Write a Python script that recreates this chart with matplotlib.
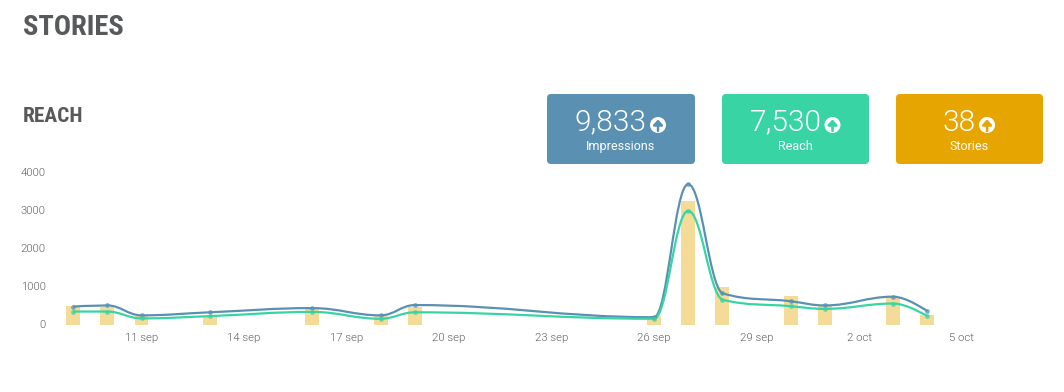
"""Stories / reach panel: story bars with impressions and reach splines."""

import matplotlib

matplotlib.use("Agg")
import matplotlib.dates as mdates
import matplotlib.pyplot as plt
import numpy as np
from matplotlib.patches import Circle, FancyBboxPatch, PathPatch
from matplotlib.path import Path

dates = ["2021-09-09", "2021-09-10", "2021-09-11", "2021-09-13", "2021-09-16",
         "2021-09-18", "2021-09-19", "2021-09-26", "2021-09-27", "2021-09-28",
         "2021-09-30", "2021-10-01", "2021-10-03", "2021-10-04"]
stories = [480, 470, 220, 215, 460, 220, 470, 215, 3240, 990, 740, 480, 730, 240]
impressions = [470, 500, 240, 320, 430, 240, 510, 190, 3680, 820, 610, 500, 730, 350]
reach = [340, 340, 160, 220, 330, 150, 320, 150, 2980, 650, 480, 410, 550, 220]

tick_dates = ["2021-09-11", "2021-09-14", "2021-09-17", "2021-09-20", "2021-09-23",
              "2021-09-26", "2021-09-29", "2021-10-02", "2021-10-05"]
tick_labels = ["11 sep", "14 sep", "17 sep", "20 sep", "23 sep",
               "26 sep", "29 sep", "2 oct", "5 oct"]
y_ticks = [0, 1000, 2000, 3000, 4000]

cards = [("9,833", "Impressions", 547, 148, "#5A91B2"),
         ("7,530", "Reach", 722, 147, "#38D4A4"),
         ("38", "Stories", 896, 147, "#E6A500")]

BLUE = "#5A91B2"
GREEN = "#38D4A4"
BAR = "#F5DB98"
GREY = "#5F5F5F"
TITLE = "#58595B"

W, H = 1064, 392


def spline_path(x, y, smoothing=1.5):
    # bezier segments through every point, flattened at local extremes
    n = len(x)
    verts = [(x[0], y[0])]
    codes = [Path.MOVETO]
    left = [(x[0], y[0])] * n
    right = [(x[0], y[0])] * n
    for i in range(1, n - 1):
        lx = (smoothing * x[i] + x[i - 1]) / (smoothing + 1)
        ly = (smoothing * y[i] + y[i - 1]) / (smoothing + 1)
        rx = (smoothing * x[i] + x[i + 1]) / (smoothing + 1)
        ry = (smoothing * y[i] + y[i + 1]) / (smoothing + 1)
        corr = (ry - ly) * (rx - x[i]) / (rx - lx) + y[i] - ry
        ly += corr
        ry += corr
        if (ly > y[i - 1] and ly > y[i]) or (ly < y[i - 1] and ly < y[i]):
            ly = max(y[i - 1], y[i]) if ly > y[i] else min(y[i - 1], y[i])
            ry = 2 * y[i] - ly
        if (ry > y[i + 1] and ry > y[i]) or (ry < y[i + 1] and ry < y[i]):
            ry = max(y[i + 1], y[i]) if ry > y[i] else min(y[i + 1], y[i])
            ly = 2 * y[i] - ry
        left[i] = (lx, ly)
        right[i] = (rx, ry)
    right[0] = (x[0], y[0])
    left[n - 1] = (x[n - 1], y[n - 1])
    for i in range(1, n):
        verts += [right[i - 1], left[i], (x[i], y[i])]
        codes += [Path.CURVE4] * 3
    return Path(verts, codes)


fig = plt.figure(figsize=(W / 100, H / 100), dpi=100, facecolor="white")

# page overlay in pixel coordinates, y pointing down
page = fig.add_axes([0, 0, 1, 1])
page.set_xlim(0, W)
page.set_ylim(H, 0)
page.axis("off")

page.text(23, 35, "STORIES", fontsize=20.5, fontweight=700, color=TITLE,
          family="Roboto Condensed", va="baseline", ha="left")
page.text(23, 122, "REACH", fontsize=15.4, fontweight=700, color=TITLE,
          family="Roboto Condensed", va="baseline", ha="left")

for value, label, left, width, colour in cards:
    page.add_patch(FancyBboxPatch((left + 3, 97), width - 6, 64,
                                  boxstyle="round,pad=3,rounding_size=4",
                                  fc=colour, ec="none"))
    cx = left + width / 2
    t = page.text(cx - 10, 122.5, value, fontsize=21.5, color="white", weight=300,
                  family="Roboto", ha="center", va="center")
    bb = t.get_window_extent(fig.canvas.get_renderer())
    ix = bb.x1 + 11
    page.add_patch(Circle((ix, 125), 8, fc="white", ec="none"))
    page.annotate("", xy=(ix, 119.5), xytext=(ix, 131),
                  arrowprops=dict(arrowstyle="-|>,head_width=0.28,head_length=0.3",
                                  color=colour, lw=1.8, shrinkA=0, shrinkB=0))
    page.text(cx - 0.5, 146, label, fontsize=9, color="white", weight=400,
              family="Roboto", ha="center", va="center")

# chart: 4000 at y=172px, 0 at y=324.5px; 11 sep at x=141.5px, 5 oct at x=961.5px
x0 = mdates.date2num(np.datetime64("2021-09-11"))
px_per_day = (961.5 - 141.5) / 24
ax_left, ax_right = 50, 1040
ax_top, ax_bottom = 172, 324.5
ax = fig.add_axes([ax_left / W, 1 - ax_bottom / H,
                   (ax_right - ax_left) / W, (ax_bottom - ax_top) / H])
ax.patch.set_alpha(0)
ax.set_xlim(x0 + (ax_left - 141.5) / px_per_day, x0 + (ax_right - 141.5) / px_per_day)
ax.set_ylim(0, 4000)

xs = mdates.date2num(np.array(dates, dtype="datetime64[D]"))
ax.bar(xs, stories, width=14 / px_per_day, color=BAR, clip_on=False, zorder=1)

for series, colour in [(impressions, BLUE), (reach, GREEN)]:
    ax.add_patch(PathPatch(spline_path(list(xs), list(series)), fc="none", ec=colour,
                           lw=1.6, zorder=3, clip_on=False))
    ax.plot(xs, series, ls="none", marker="o", ms=3.4, mew=0, color=colour, alpha=0.75,
            zorder=4, clip_on=False)

for side in ax.spines.values():
    side.set_visible(False)
ax.set_yticks(y_ticks)
ax.set_yticklabels([str(v) for v in y_ticks], fontsize=8.2, color=GREY,
                   family="Roboto", weight=300)
ax.set_xticks(mdates.date2num(np.array(tick_dates, dtype="datetime64[D]")))
ax.set_xticklabels(tick_labels, fontsize=8.2, color=GREY, family="Roboto", weight=300)
ax.tick_params(axis="both", length=0)
ax.tick_params(axis="x", pad=6)
ax.tick_params(axis="y", pad=3)

fig.savefig("out.png", dpi=100)
